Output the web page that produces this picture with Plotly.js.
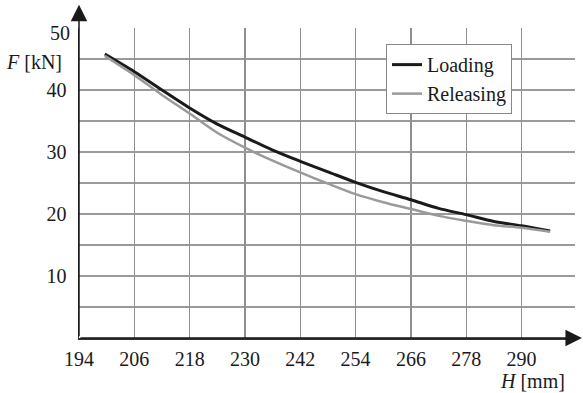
<!DOCTYPE html>
<html>
<head>
<meta charset="utf-8">
<script src="https://cdn.plot.ly/plotly-3.0.1.min.js"></script>
<style>html,body{margin:0;padding:0;background:#fff;}#chart{width:583px;height:393px;}</style>
</head>
<body>
<div id="chart"></div>
<script>
const H = [199.6, 206, 212, 218, 224, 230, 236, 242, 248, 254, 260, 266, 272, 278, 284, 290, 296.2];
const loading = [45.8, 42.95, 40.0, 37.1, 34.5, 32.4, 30.3, 28.5, 26.8, 25.1, 23.6, 22.3, 20.9, 19.9, 18.8, 18.1, 17.25];
const releasing = [45.5, 42.4, 39.2, 36.2, 33.1, 30.7, 28.6, 26.7, 24.9, 23.2, 21.9, 20.8, 19.7, 18.9, 18.2, 17.8, 17.15];
const xTicks = [194, 206, 218, 230, 242, 254, 266, 278, 290];
const yTicks = [10, 20, 30, 40];
const yMinor = [5, 15, 25, 35, 45];
const font = 'Liberation Serif';

const traces = [
  {x: H, y: loading, name: 'Loading', mode: 'lines', line: {color: '#1a1a1a', width: 3, shape: 'spline', smoothing: 0.8}},
  {x: H, y: releasing, name: 'Releasing', mode: 'lines', line: {color: '#9a9a9a', width: 2.5, shape: 'spline', smoothing: 0.8}}
];

const layout = {
  width: 583, height: 393,
  margin: {l: 79, r: 8, t: 28, b: 55},
  paper_bgcolor: '#fff', plot_bgcolor: '#fff',
  font: {family: font, size: 20, color: '#1a1a1a'},
  showlegend: true,
  legend: {x: 0.619, y: 0.948, xanchor: 'left', yanchor: 'top', bgcolor: '#fff', bordercolor: '#888', borderwidth: 1,
           font: {family: font, size: 20, color: '#1a1a1a'}},
  xaxis: {range: [194, 301.6], tickvals: xTicks, ticktext: xTicks.map(String), showgrid: true, gridcolor: '#8f8f8f', gridwidth: 1.3,
          zeroline: false, showline: true, linecolor: '#333', linewidth: 1.5, ticks: '', ticklabelstandoff: 2, fixedrange: true,
          tickfont: {family: font, size: 20, color: '#1a1a1a'}},
  yaxis: {range: [0, 50], tickvals: yTicks, ticktext: yTicks.map(String), showgrid: true, gridcolor: '#9a9a9a', gridwidth: 1.3,
          minor: {tickvals: yMinor, showgrid: true, gridcolor: '#9a9a9a', gridwidth: 1.3, ticks: ''},
          zeroline: false, showline: true, linecolor: '#333', linewidth: 1.5, ticks: '', ticklabelstandoff: 7, fixedrange: true,
          tickfont: {family: font, size: 20, color: '#1a1a1a'}},
  annotations: [
    {xref: 'paper', yref: 'paper', x: 0, y: 1.075, ax: 0, ay: 333, axref: 'pixel', ayref: 'pixel', text: '', showarrow: true,
     arrowhead: 2, arrowsize: 2.2, arrowwidth: 1.5, arrowcolor: '#1a1a1a'},
    {xref: 'paper', yref: 'paper', x: 1.014, y: 0, ax: -503, ay: 0, text: '', showarrow: true,
     arrowhead: 2, arrowsize: 2.2, arrowwidth: 1.5, arrowcolor: '#1a1a1a'},
    {xref: 'paper', yref: 'y', x: 0, y: 50, xanchor: 'right', yanchor: 'middle', xshift: -7, yshift: -5, text: '50', showarrow: false,
     font: {family: font, size: 20, color: '#1a1a1a'}},
    {xref: 'paper', yref: 'paper', x: -0.03, y: 0.89, xanchor: 'right', yanchor: 'middle', text: '<i>F</i> [kN]', showarrow: false,
     font: {family: font, size: 20, color: '#1a1a1a'}},
    {xref: 'paper', yref: 'paper', x: 0.984, y: -0.14, xanchor: 'right', yanchor: 'middle', text: '<i>H</i> [mm]', showarrow: false,
     font: {family: font, size: 20, color: '#1a1a1a'}}
  ]
};

Plotly.newPlot('chart', traces, layout, {staticPlot: true, displayModeBar: false});
</script>
</body>
</html>
